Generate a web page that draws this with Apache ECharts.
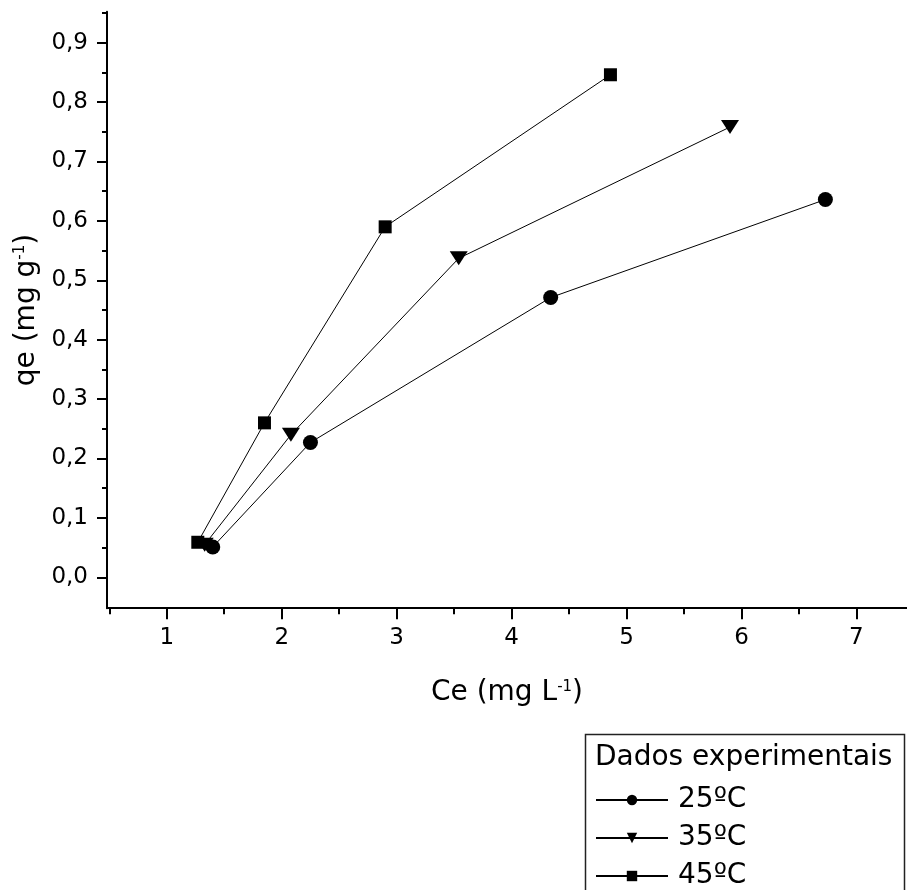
<!DOCTYPE html>
<html>
<head>
<meta charset="utf-8">
<script src="https://cdn.jsdelivr.net/npm/echarts@6/dist/echarts.min.js"></script>
<style>html,body{margin:0;padding:0;background:#fff;}#chart{width:907px;height:890px;}</style>
</head>
<body>
<div id="chart"></div>
<script>
// Data
const seriesNames = ['25ºC', '35ºC', '45ºC'];
const ce25 = [1.40, 2.25, 4.34, 6.73];
const qe25 = [0.051, 0.227, 0.471, 0.636];
const ce35 = [1.33, 2.08, 3.54, 5.90];
const qe35 = [0.055, 0.240, 0.537, 0.758];
const ce45 = [1.27, 1.85, 2.90, 4.86];
const qe45 = [0.059, 0.260, 0.590, 0.846];

const xMajorTicks = [1, 2, 3, 4, 5, 6, 7];
const xMinorTicks = [0.5, 1.5, 2.5, 3.5, 4.5, 5.5, 6.5, 7.5];
const yMajorTicks = [0.0, 0.1, 0.2, 0.3, 0.4, 0.5, 0.6, 0.7, 0.8, 0.9];
const yMinorTicks = [0.05, 0.15, 0.25, 0.35, 0.45, 0.55, 0.65, 0.75, 0.85, 0.95];
const legendTitle = 'Dados experimentais';

const FONT = 'DejaVu Sans';
const pair = (xs, ys) => xs.map((x, i) => [x, ys[i]]);

const X_MIN = 0.48, X_MAX = 7.44, Y_MIN = -0.052, Y_MAX = 0.952;

const chart = echarts.init(document.getElementById('chart'), null, {renderer: 'canvas'});
const axisLine = {show: true, onZero: false, lineStyle: {color: '#000', width: 2}};

const option = {
  backgroundColor: '#fff',
  animation: false,
  grid: {left: 107, right: 0, top: 11.8, bottom: 281.8, containLabel: false},
  xAxis: [
    {
      type: 'value', position: 'bottom', min: X_MIN, max: X_MAX,
      axisLine: axisLine,
      splitLine: {show: false},
      axisTick: {show: true, inside: false, length: 11, lineStyle: {color: '#000', width: 2}, customValues: xMajorTicks},
      axisLabel: {show: true, margin: 18, fontSize: 23, fontFamily: FONT, color: '#000', customValues: xMajorTicks,
        formatter: v => String(v)},
      name: 'Ce (mg L{sup|-1})',
      nameLocation: 'middle', nameGap: 71,
      nameTextStyle: {fontSize: 28, fontFamily: FONT, color: '#000',
        rich: {sup: {fontSize: 15, fontFamily: FONT, color: '#000', verticalAlign: 'top'}}}
    },
    {
      type: 'value', position: 'bottom', min: X_MIN, max: X_MAX,
      axisLine: {show: false, onZero: false},
      splitLine: {show: false},
      axisTick: {show: true, inside: false, length: 6, lineStyle: {color: '#000', width: 2}, customValues: xMinorTicks},
      axisLabel: {show: false}
    }
  ],
  yAxis: [
    {
      type: 'value', position: 'left', min: Y_MIN, max: Y_MAX,
      axisLine: axisLine,
      splitLine: {show: false},
      axisTick: {show: true, inside: false, length: 10, lineStyle: {color: '#000', width: 2}, customValues: yMajorTicks},
      axisLabel: {show: true, margin: 19, fontSize: 23, fontFamily: FONT, color: '#000', customValues: yMajorTicks,
        formatter: v => v.toFixed(1).replace('.', ',')},
      name: 'qe (mg g{sup|-1})',
      nameLocation: 'middle', nameGap: 62, nameRotate: 90,
      nameTextStyle: {fontSize: 28, fontFamily: FONT, color: '#000',
        rich: {sup: {fontSize: 15, fontFamily: FONT, color: '#000', verticalAlign: 'top'}}}
    },
    {
      type: 'value', position: 'left', min: Y_MIN, max: Y_MAX,
      axisLine: {show: false, onZero: false},
      splitLine: {show: false},
      axisTick: {show: true, inside: false, length: 5, lineStyle: {color: '#000', width: 2}, customValues: yMinorTicks},
      axisLabel: {show: false}
    }
  ],
  legend: {
    show: true, orient: 'vertical', left: 595, top: 785, height: 200, padding: 0,
    itemWidth: 72, itemHeight: 13, itemGap: 8,
    data: seriesNames,
    textStyle: {fontSize: 28, fontFamily: FONT, color: '#000', lineHeight: 30, padding: [0, 0, 0, 5]},
    inactiveColor: '#000'
  },
  graphic: [
    {type: 'rect', left: 583, top: 732, shape: {width: 319, height: 200},
      style: {fill: 'none', stroke: '#222', lineWidth: 1.5}, silent: true},
    {type: 'text', left: 595, top: 744, style: {text: legendTitle, font: '28px "DejaVu Sans"', fill: '#000'}, silent: true}
  ],
  series: [
    {
      name: seriesNames[0], type: 'line', xAxisIndex: 0, yAxisIndex: 0,
      data: pair(ce25, qe25), symbol: 'circle', symbolSize: 15,
      lineStyle: {color: '#000', width: 1}, itemStyle: {color: '#000'}
    },
    {
      name: seriesNames[1], type: 'line', xAxisIndex: 0, yAxisIndex: 0,
      data: pair(ce35, qe35), symbol: 'path://M0,0L20,0L10,16Z', symbolSize: [18, 14],
      lineStyle: {color: '#000', width: 1}, itemStyle: {color: '#000'}
    },
    {
      name: seriesNames[2], type: 'line', xAxisIndex: 0, yAxisIndex: 0,
      data: pair(ce45, qe45), symbol: 'rect', symbolSize: 13,
      lineStyle: {color: '#000', width: 1}, itemStyle: {color: '#000'}
    }
  ]
};
chart.setOption(option);
</script>
</body>
</html>
